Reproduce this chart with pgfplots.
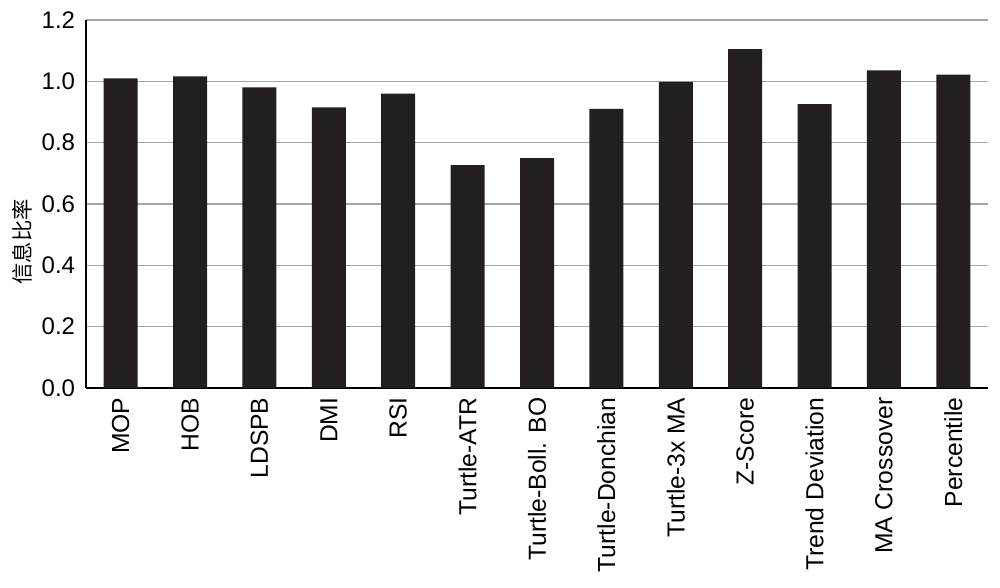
\documentclass[border=0pt]{standalone}
\usepackage{fontspec}
\setmainfont{Liberation Sans}
\newfontfamily\cjk{Noto Sans CJK SC}
\usepackage{pgfplots}
\pgfplotsset{compat=1.18}
\definecolor{barc}{HTML}{231F20}
\begin{document}
\begin{tikzpicture}
\path[use as bounding box] (-64.5pt,-149.25pt) rectangle (685.5pt,291pt);
\begin{axis}[
  at={(0pt,0pt)}, anchor=south west,
  scale only axis,
  width=676.5pt, height=276pt,
  xmin=-0.5, xmax=12.5,
  ymin=0, ymax=1.2,
  ytick={0,0.2,0.4,0.6,0.8,1.0,1.2},
  /pgf/number format/assume math mode=true,
  yticklabel style={font=\fontsize{18}{20}\selectfont, inner sep=1pt, xshift=-7pt, /pgf/number format/fixed, /pgf/number format/fixed zerofill, /pgf/number format/precision=1},
  xtick={0,...,12},
  xticklabels={MOP,HOB,LDSPB,DMI,RSI,Turtle-ATR,Turtle-Boll. BO,Turtle-Donchian,Turtle-3x MA,Z-Score,Trend Deviation,MA Crossover,Percentile},
  xticklabel style={yshift=-6pt, rotate=90, anchor=east, font=\fontsize{18.5}{20}\selectfont, inner sep=1pt},
  axis x line*=bottom, axis y line*=left,
  axis line style={black, line width=0.9pt},
  major tick length=0pt,
  ymajorgrids, grid style={gray!70, line width=0.8pt},
  ylabel={\cjk 信息比率},
  ylabel style={font=\fontsize{16}{17}\selectfont, at={(axis description cs:-0.071,0.397)}, anchor=center},
]
\addplot[ybar, bar width=25.5pt, fill=barc, draw=none] coordinates {
(0,1.010) (1,1.016) (2,0.980) (3,0.915) (4,0.960) (5,0.727) (6,0.750)
(7,0.910) (8,0.998) (9,1.105) (10,0.926) (11,1.036) (12,1.022)};
\end{axis}
\end{tikzpicture}
\end{document}
